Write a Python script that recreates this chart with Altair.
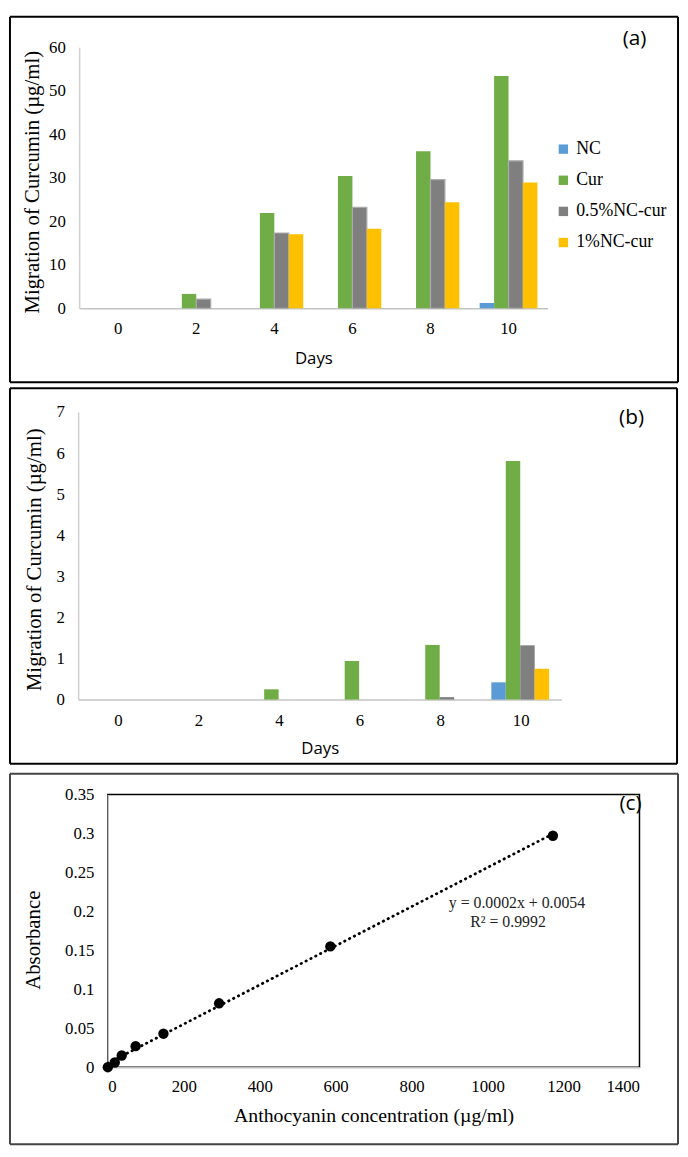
import altair as alt
import pandas as pd

# ---------------- data ----------------
days = ["0", "2", "4", "6", "8", "10"]
series = ["NC", "Cur", "0.5%NC-cur", "1%NC-cur"]
colors = ["#5B9BD5", "#70AD47", "#7F7F7F", "#FFC000"]

# panel (a)
a_nc = [0, 0, 0, 0, 0, 1.2]
a_cur = [0, 3.3, 21.9, 30.4, 36.1, 53.4]
a_05 = [0, 2.1, 17.3, 23.2, 29.6, 33.9]
a_1 = [0, 0, 17.0, 18.3, 24.4, 28.9]
a_yticks = [0, 10, 20, 30, 40, 50, 60]

# panel (b)
b_nc = [0, 0, 0, 0, 0, 0.42]
b_cur = [0, 0, 0.25, 0.94, 1.33, 5.81]
b_05 = [0, 0, 0, 0, 0.06, 1.32]
b_1 = [0, 0, 0, 0, 0, 0.75]
b_yticks = [0, 1, 2, 3, 4, 5, 6, 7]

# panel (c)
c_conc = [0, 18.3, 36.6, 73.2, 146.5, 293, 586, 1172]
c_abs = [0, 0.006, 0.015, 0.027, 0.043, 0.082, 0.155, 0.297]
c_xticks = [0, 200, 400, 600, 800, 1000, 1200, 1400]
c_yticks = [0, 0.05, 0.1, 0.15, 0.2, 0.25, 0.3, 0.35]
eq_lines = ["y = 0.0002x + 0.0054", "R² = 0.9992"]

SERIF = "Liberation Serif"
SANS = "Open Sans"
YTITLE = "Migration of Curcumin (µg/ml)"


def long_df(cols):
    rows = []
    for s, vals in zip(series, cols):
        for d, v in zip(days, vals):
            rows.append({"day": d, "series": s, "value": v})
    return pd.DataFrame(rows)


def frame_layers(x1, x2, y1, y2, color="black", extra_bottom=0):
    one = pd.DataFrame({"k": [0]})
    rule = lambda **enc: alt.Chart(one).mark_rule(
        color=color, strokeWidth=2).encode(**enc)
    layers = [
        rule(x=alt.value(x1), x2=alt.value(x2), y=alt.value(y1)),
        rule(x=alt.value(x1), x2=alt.value(x2), y=alt.value(y2)),
        rule(x=alt.value(x1), y=alt.value(y1), y2=alt.value(y2)),
        rule(x=alt.value(x2), y=alt.value(y1), y2=alt.value(y2)),
    ]
    if extra_bottom:
        layers.append(alt.Chart(one).mark_rule(strokeOpacity=0).encode(
            x=alt.value(x1), y=alt.value(y2), y2=alt.value(y2 + extra_bottom)))
    return layers


def tag_layer(text, x, y):
    return alt.Chart(pd.DataFrame({"t": [text]})).mark_text(
        font=SANS, fontSize=21, color="black", baseline="middle", align="center"
    ).encode(text="t:N", x=alt.value(x), y=alt.value(y))


def bar_panel(df, ymax, yticks, xrange, h, frame, legend_xy, row_pad, tag, tag_xy,
              ytitle_xy, xtitle_y, outline=False, extra_bottom=0):
    left = -xrange[0]
    color = alt.Color(
        "series:N",
        scale=alt.Scale(domain=series, range=colors),
        sort=series,
        legend=alt.Legend(
            title=None, orient="none", legendX=legend_xy[0], legendY=legend_xy[1],
            symbolType="square", symbolSize=90, symbolStrokeWidth=0,
            labelFont=SERIF, labelFontSize=18, labelColor="black",
            rowPadding=row_pad, labelOffset=4, padding=0,
        ),
    )
    enc = dict(
        x=alt.X(
            "day:N", sort=days,
            scale=alt.Scale(range=xrange, paddingInner=0.26, paddingOuter=0.13),
            axis=alt.Axis(
                title="Days", labelAngle=0, ticks=False, labelPadding=13,
                labelFont=SERIF, labelFontSize=17, labelColor="black",
                domainColor="#C4C4C4", domainWidth=1.5,
                titleFont=SANS, titleFontSize=17, titleFontWeight="normal",
                titleColor="black", titleX=(xrange[0] + xrange[1]) / 2,
                titleY=xtitle_y, titleBaseline="middle",
            ),
        ),
        xOffset=alt.XOffset("series:N", sort=series,
                            scale=alt.Scale(paddingInner=0, paddingOuter=0)),
        y=alt.Y(
            "value:Q", scale=alt.Scale(domain=[0, ymax], nice=False),
            axis=alt.Axis(
                title=YTITLE, values=yticks, grid=False, ticks=False, offset=left,
                labelPadding=14, labelFont=SERIF, labelFontSize=17,
                labelColor="black", domainColor="#D0D0D0", domainWidth=1.5,
                titleFont=SERIF, titleFontSize=21, titleFontWeight="normal",
                titleColor="black", titleX=ytitle_xy[0], titleY=ytitle_xy[1],
                titleBaseline="middle",
            ),
        ),
        color=color,
    )
    if outline:
        enc["strokeWidth"] = alt.condition(
            "datum.series == '0.5%NC-cur' && datum.value > 0",
            alt.value(1.2), alt.value(0))
        bars = alt.Chart(df).mark_bar(stroke="#ABABAB").encode(**enc)
    else:
        bars = alt.Chart(df).mark_bar(strokeWidth=0).encode(**enc)
    layers = frame_layers(*frame, extra_bottom=extra_bottom) + [
        bars, tag_layer(tag, *tag_xy)]
    return alt.layer(*layers).properties(width=538, height=h)


# common origin: page x = 108 (left edge of panel c plot area)
pa = bar_panel(
    long_df([a_nc, a_cur, a_05, a_1]), 60, a_yticks, [-29, 445], 264,
    frame=(-99, 577, -31, 339), legend_xy=(452, 94), row_pad=13.5,
    tag="(a)", tag_xy=(533, -8), ytitle_xy=(-47, 136), xtitle_y=51,
    outline=True,
)

pb = bar_panel(
    long_df([b_nc, b_cur, b_05, b_1]), 7, b_yticks, [-30, 459], 291,
    frame=(-99, 576, -24, 356), legend_xy=(449, 111), row_pad=13.8,
    tag="(b)", tag_xy=(530, 6), ytitle_xy=(-44, 149), xtitle_y=50,
    extra_bottom=5,
)

# ---------------- panel (c) ----------------
cdf = pd.DataFrame({"conc": c_conc, "abs": c_abs})
xenc = alt.X(
    "conc:Q", scale=alt.Scale(domain=[0, 1400], nice=False),
    axis=alt.Axis(
        title="Anthocyanin concentration (µg/ml)", values=c_xticks, format="d",
        grid=False, ticks=False, labelPadding=12, labelFont=SERIF,
        labelFontSize=17, labelColor="black", domainColor="#BFBFBF",
        domainWidth=1.5, titleFont=SERIF, titleFontSize=20,
        titleFontWeight="normal", titleColor="black", titleY=49,
        titleBaseline="middle",
    ),
)
yenc = alt.Y(
    "abs:Q", scale=alt.Scale(domain=[0, 0.35], nice=False),
    axis=alt.Axis(
        title="Absorbance", values=c_yticks, format="~g", grid=False,
        ticks=False, labelPadding=14, labelFont=SERIF, labelFontSize=17,
        labelColor="black", domainColor="#BFBFBF", domainWidth=1.5,
        titleFont=SERIF, titleFontSize=21, titleFontWeight="normal",
        titleColor="black", titleX=-75, titleY=147, titleBaseline="middle",
    ),
)
trend = alt.Chart(cdf).transform_regression("conc", "abs").mark_line(
    color="black", strokeWidth=2.8, strokeDash=[0.5, 5], strokeCap="round"
).encode(x=xenc, y=yenc)
pts = alt.Chart(cdf).mark_circle(size=110, color="black", opacity=1).encode(
    x=xenc, y=yenc)
eq1 = alt.Chart(pd.DataFrame({"t": [eq_lines[0]]})).mark_text(
    font=SERIF, fontSize=16, color="#222222", baseline="middle", align="center"
).encode(text="t:N", x=alt.value(414), y=alt.value(110))
eq2 = alt.Chart(pd.DataFrame({"t": [eq_lines[1]]})).mark_text(
    font=SERIF, fontSize=16, color="#222222", baseline="middle", align="center"
).encode(text="t:N", x=alt.value(405), y=alt.value(129))

pc = alt.layer(
    *frame_layers(-99, 577, -21, 354, color="#444444"), trend, pts, eq1, eq2,
    tag_layer("(c)", 529, 10)
).properties(width=538, height=276,
             view=alt.ViewBackground(stroke="black", strokeWidth=1.5))

chart = alt.vconcat(pa, pb, pc, spacing=2).properties(padding=0).configure_view(
    stroke="transparent").configure_concat(spacing=2)

chart.save("out.html", embed_options={"renderer": "svg", "actions": False})
